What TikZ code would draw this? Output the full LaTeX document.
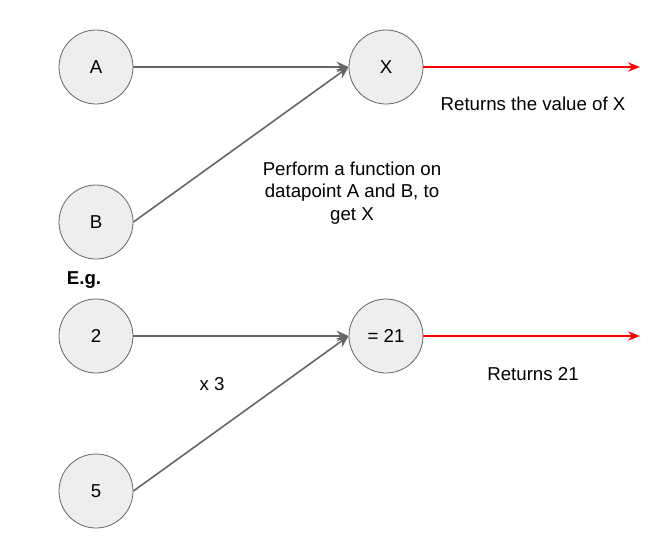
\documentclass[tikz,border=0pt]{standalone}
\usepackage{fontspec}
\setmainfont{Liberation Sans}
\usetikzlibrary{arrows.meta}
\definecolor{nodefill}{HTML}{EEEEEE}
\definecolor{nodeline}{HTML}{666666}
\definecolor{arrowgray}{HTML}{666666}
\definecolor{arrowred}{HTML}{FF0000}
\begin{document}
\begin{tikzpicture}[x=0.75pt,y=-0.75pt,
  circ/.style={circle,draw=nodeline,fill=nodefill,line width=0.6pt,minimum size=55.5pt,inner sep=0pt,font=\fontsize{14}{16}\selectfont},
  graylink/.style={draw=arrowgray,line width=1.2pt,-{Stealth[length=9pt,width=8pt,inset=3pt]}},
  redlink/.style={draw=arrowred,line width=1.2pt,-{Stealth[length=9pt,width=7pt,inset=3pt]}},
  lbl/.style={font=\fontsize{14}{17}\selectfont,align=center,inner sep=0pt}]
\useasboundingbox (0,0) rectangle (670,537);
\node[circ] (A) at (96,67) {A};
\node[circ] (X) at (386,67) {X};
\node[circ] (B) at (96,222) {B};
\node[circ] (n2) at (96,336) {2};
\node[circ] (R) at (386,336) {= 21};
\node[circ] (n5) at (96,491) {5};
\coordinate (Xend) at (640,67);
\coordinate (Rend) at (640,336);
\draw[graylink] (A) -- (X.west);
\draw[graylink] (B.east) -- (X.west);
\draw[graylink] (n2) -- (R.west);
\draw[graylink] (n5.east) -- (R.west);
\draw[redlink] (X) -- (Xend);
\draw[redlink] (R) -- (Rend);
\node[lbl] (t1) at (533,104) {Returns the value of X};
\node[lbl] (t2) at (352,193) {Perform a function on\\datapoint A and B, to\\get X};
\node[lbl,font=\fontsize{14}{16}\selectfont\bfseries] (t3) at (84,280) {E.g.};
\node[lbl] (t4) at (212,384) {x 3};
\node[lbl] (t5) at (533,374) {Returns 21};
\end{tikzpicture}
\end{document}
